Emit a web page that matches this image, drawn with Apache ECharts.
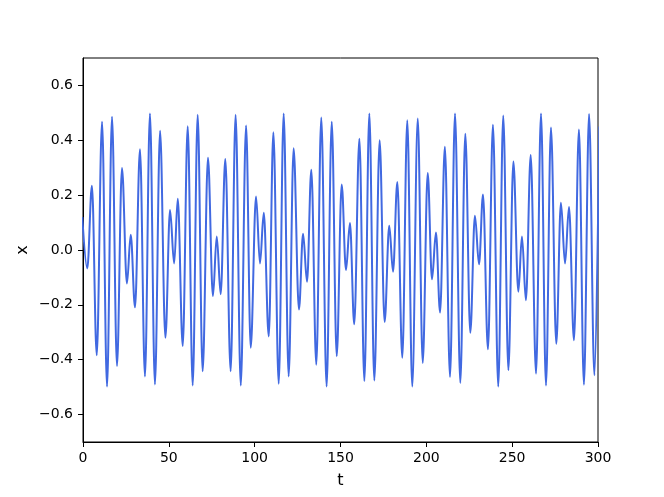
<!DOCTYPE html>
<html>
<head>
<meta charset="utf-8">
<script src="https://cdn.jsdelivr.net/npm/echarts@6/dist/echarts.min.js"></script>
<style>
html,body{margin:0;padding:0;background:#fff;}
#chart{width:664px;height:497px;}
</style>
</head>
<body>
<div id="chart"></div>
<script>
const tValues = [
  -0.4, 2.5, 5.2, 8.0, 11.1, 14.0, 16.9, 19.8, 22.7, 25.6, 27.8, 30.3, 33.2, 36.1, 39.0, 41.9, 44.9, 48.0,
  50.7, 53.1, 55.2, 58.1, 61.0, 63.9, 66.8, 69.7, 72.8, 75.7, 77.9, 80.2, 82.9, 86.0, 88.9, 91.9, 95.0, 97.7,
  100.8, 103.1, 105.3, 108.2, 110.9, 114.0, 116.9, 119.8, 122.7, 125.8, 128.2, 130.5, 133.0, 135.9, 138.8,
  141.9, 144.9, 147.8, 150.7, 153.2, 155.5, 158.0, 161.0, 163.9, 166.8, 169.7, 172.8, 175.7, 178.4, 180.6,
  183.1, 186.0, 188.9, 191.8, 195.0, 197.9, 200.8, 203.3, 205.6, 208.0, 210.8, 213.8, 216.7, 219.8, 222.7,
  225.6, 228.3, 230.7, 233.0, 235.9, 238.8, 241.9, 244.8, 247.8, 250.7, 253.6, 255.7, 258.0, 260.8, 263.9,
  266.8, 269.7, 272.6, 275.7, 278.4, 280.8, 283.1, 286.0, 288.9, 291.8, 294.8, 297.9, 300.8
];
const xValues = [
  0.12, -0.067, 0.234, -0.384, 0.468, -0.498, 0.486, -0.423, 0.299, -0.122, 0.056, -0.209, 0.367, -0.461, 0.498, -0.490, 0.435, -0.320,
  0.146, -0.049, 0.187, -0.350, 0.451, -0.494, 0.493, -0.442, 0.336, -0.168, 0.049, -0.161, 0.332, -0.442, 0.493, -0.494, 0.454, -0.356,
  0.195, -0.049, 0.136, -0.315, 0.429, -0.488, 0.498, -0.461, 0.371, -0.217, 0.059, -0.116, 0.293, -0.418, 0.483,
  -0.498, 0.468, -0.387, 0.239, -0.073, 0.098, -0.271, 0.406, -0.478, 0.498, -0.476, 0.400, -0.262, 0.088, -0.079,
  0.248, -0.393, 0.473, -0.498, 0.479, -0.412, 0.281, -0.107, 0.064, -0.228, 0.376, -0.463, 0.498, -0.485, 0.424,
  -0.302, 0.125, -0.052, 0.202, -0.362, 0.457, -0.498, 0.490, -0.438, 0.323, -0.152, 0.049, -0.183, 0.346, -0.451,
  0.498, -0.494, 0.447, -0.342, 0.172, -0.049, 0.157, -0.329, 0.439, -0.491, 0.496, -0.457, 0.45
];
const yTicks = [-0.6, -0.4, -0.2, 0.0, 0.2, 0.4, 0.6];
const xTicks = [0, 50, 100, 150, 200, 250, 300];

const seriesData = tValues.map((t, i) => [t, xValues[i]]);
const fmtY = v => (Math.round(v * 10) / 10).toFixed(1).replace('-', '\u2212');
const font = 'DejaVu Sans';

const chart = echarts.init(document.getElementById('chart'), null, {renderer: 'canvas'});
chart.setOption({
  animation: false,
  backgroundColor: '#ffffff',
  grid: {
    left: 83, top: 58, width: 515, height: 384,
    show: true, borderColor: '#000', borderWidth: 1, backgroundColor: 'transparent'
  },
  xAxis: {
    type: 'value',
    min: xTicks[0], max: xTicks[xTicks.length - 1], interval: 50,
    name: 't', nameLocation: 'middle', nameGap: 31, nameMoveOverlap: false,
    nameTextStyle: {fontFamily: font, fontSize: 16, color: '#000'},
    axisLine: {show: true, onZero: false, lineStyle: {color: '#000', width: 1}},
    axisTick: {show: true, length: 5, lineStyle: {color: '#000', width: 1}},
    axisLabel: {fontFamily: font, fontSize: 14, color: '#000', margin: 9},
    splitLine: {show: false}
  },
  yAxis: {
    type: 'value',
    min: -0.7, max: 0.7,
    name: 'x', nameLocation: 'middle', nameGap: 52, nameMoveOverlap: false,
    nameTextStyle: {fontFamily: font, fontSize: 16, color: '#000'},
    axisLine: {show: true, onZero: false, lineStyle: {color: '#000', width: 1}},
    axisTick: {show: true, length: 5, customValues: yTicks, lineStyle: {color: '#000', width: 1}},
    axisLabel: {fontFamily: font, fontSize: 14, color: '#000', margin: 10, customValues: yTicks, formatter: fmtY},
    splitLine: {show: false}
  },
  series: [{
    type: 'line',
    data: seriesData,
    showSymbol: false,
    smooth: 0.36,
    smoothMonotone: 'x',
    clip: true,
    lineStyle: {color: '#4169E1', width: 2}
  }]
});
</script>
</body>
</html>
